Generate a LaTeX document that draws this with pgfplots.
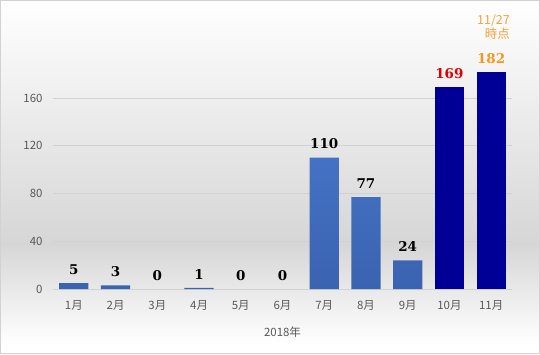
\documentclass[border=0pt]{standalone}
\usepackage{pgfplots}
\pgfplotsset{compat=1.18}
\usepackage{fontspec}
\setmainfont{Noto Sans CJK JP}
\newfontfamily\labfont{DejaVu Serif}
\definecolor{lb}{HTML}{4472C4}
\definecolor{lbd}{HTML}{3A63B0}
\definecolor{db}{HTML}{000096}
\definecolor{bgg}{HTML}{D6D6D6}
\definecolor{gridc}{HTML}{D2D2D2}
\definecolor{tk}{HTML}{595959}
\definecolor{redl}{HTML}{E00000}
\definecolor{orl}{HTML}{F29A1E}
\definecolor{orl2}{HTML}{F2A43A}
\begin{document}
\begin{tikzpicture}[x=1bp,y=1bp]
\shade[top color=white, bottom color=bgg] (0,110) rectangle (540,354);
\shade[top color=bgg, bottom color=white] (0,10) rectangle (540,110.2);
\fill[white] (0,0) rectangle (540,10.2);
\draw[color=gridc, line width=0.8bp] (0.5,0.5) rectangle (539.5,353.5);
\begin{axis}[
  at={(53bp,65bp)}, anchor=south west,
  scale only axis, width=459bp, height=238.75bp,
  xmin=-0.5, xmax=10.5, ymin=0, ymax=200,
  ytick={0,40,80,120,160},
  xtick={0,...,10},
  xticklabels={1月,2月,3月,4月,5月,6月,7月,8月,9月,10月,11月},
  /pgf/number format/assume math mode=true,
  axis line style={draw=none},
  ymajorgrids, grid style={color=gridc, line width=0.8bp},
  major tick length=0pt,
  tick label style={color=tk, font=\fontsize{11.5}{12}\selectfont},
  yticklabel style={xshift=-7bp},
  xticklabel style={yshift=-8bp},
  xlabel={2018年},
  xlabel style={color=tk, font=\fontsize{11.5}{12}\selectfont, yshift=-10bp},
  ybar, bar width=0.7, bar shift=0pt,
  nodes near coords,
  every node near coord/.append style={font=\labfont\bfseries\fontsize{13.5}{14}\selectfont, yshift=5bp},
  clip=false,
]
% light bars (non-zero)
\addplot[draw=none, top color=lb, bottom color=lbd, nodes near coords style={black}] coordinates {(0,5) (1,3) (3,1) (6,110) (7,77) (8,24)};
% zero-valued months
\addplot[draw=none, fill=none, nodes near coords style={black}] coordinates {(2,0) (4,0) (5,0)};
% October
\addplot[draw=none, fill=db, nodes near coords style={redl}] coordinates {(9,169)};
% November
\addplot[draw=none, fill=db, nodes near coords style={orl}] coordinates {(10,182)};
\node[anchor=south east, align=right, text=orl2, font=\fontsize{12.5}{12}\selectfont, inner sep=0pt] at (axis cs:10.45,209) {11/27\\時点};
\end{axis}
\end{tikzpicture}
\end{document}
